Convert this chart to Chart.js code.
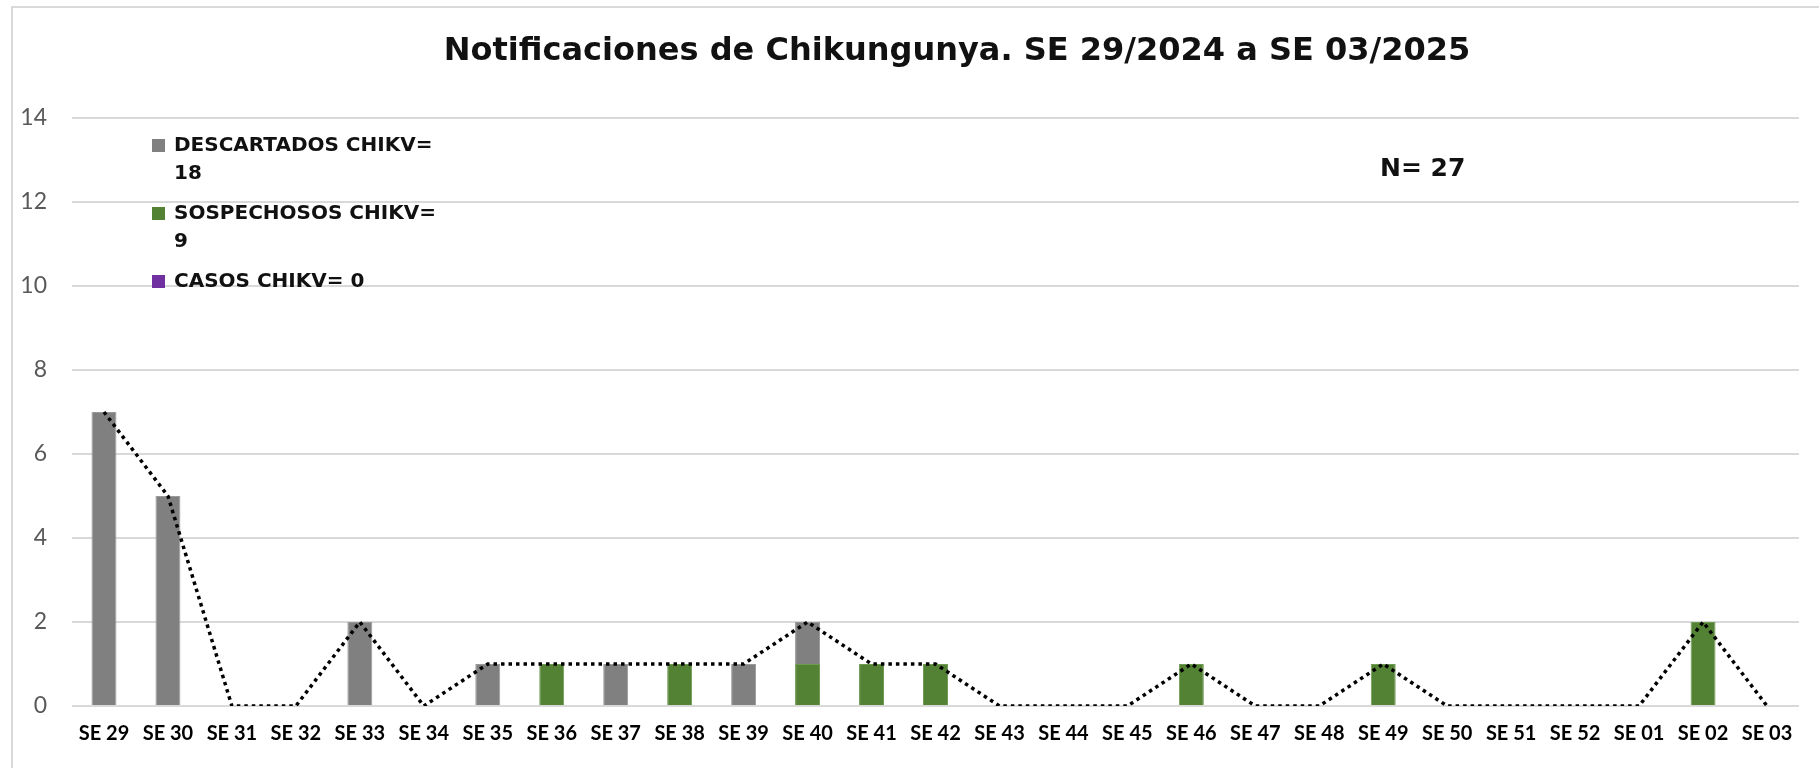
<!DOCTYPE html>
<html>
<head>
<meta charset="utf-8">
<script src="https://cdn.jsdelivr.net/npm/chart.js@4.4.1/dist/chart.umd.min.js"></script>
<style>
  html, body { margin: 0; padding: 0; background: #fff; }
  #wrap { width: 1819px; height: 768px; position: relative; }
</style>
</head>
<body>
<div id="wrap"><canvas id="chart"></canvas></div>
<script>
// ── Data ──────────────────────────────────────────────────────────────────────
const weeks = ['SE 29','SE 30','SE 31','SE 32','SE 33','SE 34','SE 35','SE 36','SE 37','SE 38',
               'SE 39','SE 40','SE 41','SE 42','SE 43','SE 44','SE 45','SE 46','SE 47','SE 48',
               'SE 49','SE 50','SE 51','SE 52','SE 01','SE 02','SE 03'];
const descartados  = [7,5,0,0,2,0,1,0,1,0,1,1,0,0,0,0,0,0,0,0,0,0,0,0,0,0,0];
const sospechosos  = [0,0,0,0,0,0,0,1,0,1,0,1,1,1,0,0,0,1,0,0,1,0,0,0,0,2,0];
const casos        = [0,0,0,0,0,0,0,0,0,0,0,0,0,0,0,0,0,0,0,0,0,0,0,0,0,0,0];
const totales      = [7,5,0,0,2,0,1,1,1,1,1,2,1,1,0,0,0,1,0,0,1,0,0,0,0,2,0];
const legendLabels = [['DESCARTADOS CHIKV=', '18'], ['SOSPECHOSOS CHIKV=', '9'], ['CASOS CHIKV= 0']];
const yTicks = [0, 2, 4, 6, 8, 10, 12, 14];
const titleText = 'Notificaciones de Chikungunya. SE 29/2024 a SE 03/2025';
const noteText = 'N= 27';

const GREY = '#808080', GREEN = '#548235', PURPLE = '#7030A0';
const BOLD_FONT = '"DejaVu Sans"';

// ── Plugins: frame, title, legend, note ──────────────────────────────────────
const framePlugin = {
    id: 'frame',
    beforeDraw(chart) {
        const ctx = chart.ctx;
        ctx.save();
        ctx.strokeStyle = '#d9d9d9';
        ctx.lineWidth = 2;
        ctx.beginPath();
        ctx.moveTo(12, 768);
        ctx.lineTo(12, 7);
        ctx.lineTo(1819, 7);
        ctx.stroke();
        ctx.restore();
    }
};

const textPlugin = {
    id: 'texts',
    afterDraw(chart) {
        const ctx = chart.ctx;
        const colors = [GREY, GREEN, PURPLE];
        ctx.save();
        ctx.textBaseline = 'middle';
        ctx.fillStyle = '#111';

        // title
        ctx.textAlign = 'center';
        ctx.font = 'bold 32px ' + BOLD_FONT;
        ctx.fillText(titleText, 957, 52);

        // legend
        ctx.textAlign = 'left';
        ctx.font = 'bold 20px ' + BOLD_FONT;
        let y = 146;
        legendLabels.forEach((lines, i) => {
            ctx.fillStyle = colors[i];
            ctx.fillRect(152, y - 7, 13, 13);
            ctx.fillStyle = '#111';
            lines.forEach((ln, j) => ctx.fillText(ln, 174, y + j * 28));
            y += (lines.length - 1) * 28 + 40;
        });

        // N
        ctx.font = 'bold 25px ' + BOLD_FONT;
        ctx.fillText(noteText, 1380, 169);
        ctx.restore();
    }
};

new Chart(document.getElementById('chart'), {
    data: {
        labels: weeks,
        datasets: [
            { type: 'line', label: 'Total', data: totales, stack: 'total', order: 0,
              borderColor: '#000', borderWidth: 3.5, borderDash: [3.5, 4], pointRadius: 0,
              tension: 0, fill: false },
            { type: 'bar', label: legendLabels[1].join(' '), data: sospechosos, stack: 'a', order: 1,
              backgroundColor: GREEN, borderColor: '#6f9a52', borderWidth: 1 },
            { type: 'bar', label: legendLabels[0].join(' '), data: descartados, stack: 'a', order: 1,
              backgroundColor: GREY, borderColor: '#999', borderWidth: 1 },
            { type: 'bar', label: legendLabels[2].join(' '), data: casos, stack: 'a', order: 1,
              backgroundColor: PURPLE, borderWidth: 0 }
        ]
    },
    options: {
        responsive: true,
        maintainAspectRatio: false,
        animation: false,
        datasets: { bar: { barPercentage: 0.39, categoryPercentage: 1.0 } },
        layout: { padding: { left: 0, right: 20, top: 118, bottom: 6 } },
        plugins: {
            legend: { display: false },
            tooltip: { enabled: false },
            title: { display: false }
        },
        scales: {
            x: {
                stacked: true,
                grid: { display: false, drawTicks: false },
                border: { display: false },
                ticks: {
                    color: '#000', padding: 16, maxRotation: 0, autoSkip: false,
                    font: { family: 'Lato', size: 20, weight: 'bold' }
                }
            },
            y: {
                stacked: true,
                min: 0, max: 14,
                afterFit: (scale) => { scale.width = 72; },
                afterBuildTicks: (scale) => { scale.ticks = yTicks.map(v => ({ value: v })); },
                grid: { color: '#d9d9d9', lineWidth: 2, drawTicks: false },
                border: { display: false },
                ticks: {
                    color: '#595959', padding: 25,
                    font: { family: 'Lato', size: 23 }
                }
            }
        }
    },
    plugins: [framePlugin, textPlugin]
});
</script>
</body>
</html>
